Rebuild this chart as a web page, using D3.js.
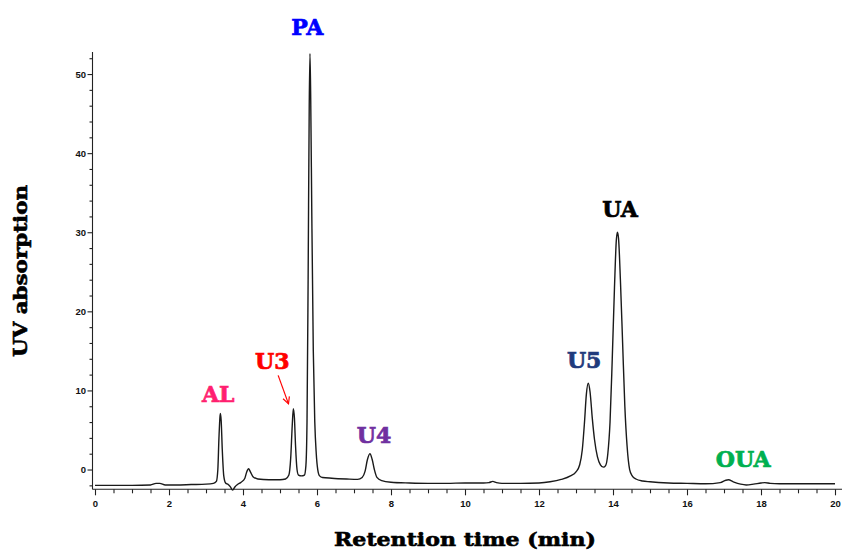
<!DOCTYPE html>
<html>
<head>
<meta charset="utf-8">
<script src="https://cdn.jsdelivr.net/npm/d3@7/dist/d3.min.js"></script>
<style>
  html, body { margin: 0; padding: 0; background: #fff; }
  svg { display: block; }
</style>
</head>
<body>
<svg id="chart" width="842" height="552"></svg>
<script>
// ---- Data ----
const timeMin = [
  0.0, 0.5, 1.0, 1.5, 1.65, 1.75, 1.9, 2.2, 2.6, 3.0, 3.2, 3.28, 3.32, 3.35, 3.38, 3.39, 3.41, 3.44, 3.48, 3.53,
  3.6, 3.66, 3.72, 3.78, 3.85, 3.95, 4.05, 4.1, 4.15, 4.2, 4.27, 4.4, 4.7, 5.0, 5.15, 5.24, 5.29, 5.33, 5.36, 5.39,
  5.42, 5.46, 5.5, 5.58, 5.66, 5.7, 5.73, 5.76, 5.79, 5.81, 5.83, 5.86, 5.9, 5.94, 5.98, 6.02, 6.07, 6.15, 6.4, 6.8,
  7.1, 7.22, 7.3, 7.36, 7.43, 7.49, 7.55, 7.62, 7.75, 8.0, 8.5, 9.0, 9.5, 10.0, 10.5, 10.65, 10.75, 10.85, 11.0, 11.5,
  12.0, 12.3, 12.6, 12.85, 13.0, 13.1, 13.17, 13.23, 13.28, 13.33, 13.38, 13.44, 13.5, 13.58, 13.66, 13.74, 13.8, 13.86, 13.92, 13.98,
  14.04, 14.09, 14.12, 14.15, 14.2, 14.26, 14.32, 14.38, 14.45, 14.52, 14.62, 14.8, 15.0, 15.5, 16.0, 16.5, 16.9, 17.05, 17.12, 17.25,
  17.45, 17.6, 17.8, 18.0, 18.1, 18.25, 18.5, 19.0, 19.5, 20.0
];
const absorbance = [
  -2.0, -2.0, -2.0, -1.95, -1.75, -1.75, -1.95, -1.95, -1.9, -1.85, -1.75, -1.5, 0.0, 4.0, 6.8, 7.1, 6.2, 2.5, -0.8, -1.7,
  -1.9, -2.2, -2.6, -2.2, -1.9, -1.6, -1.1, -0.3, 0.1, -0.3, -0.9, -1.2, -1.3, -1.3, -1.2, -0.7, 1.5, 5.5, 7.7, 6.5,
  3.0, 0.0, -0.7, -0.8, -0.7, 0.5, 6.0, 24, 46, 52.6, 47, 32, 15, 6, 2, 0.0, -0.8, -1.0, -1.1, -1.2,
  -1.25, -1.0, -0.2, 1.2, 2.0, 1.3, 0.0, -1.0, -1.4, -1.6, -1.7, -1.75, -1.75, -1.7, -1.7, -1.65, -1.5, -1.65, -1.75, -1.75,
  -1.7, -1.55, -1.25, -0.8, -0.3, 0.6, 2.5, 6.0, 9.5, 10.9, 9.8, 6.5, 3.8, 1.6, 0.6, 0.3, 0.5, 2.0, 6.0, 14,
  23, 29, 30, 29.2, 24, 16, 8, 3, 0.0, -0.8, -1.2, -1.45, -1.55, -1.7, -1.75, -1.8, -1.65, -1.35, -1.3, -1.55,
  -1.85, -1.95, -1.85, -1.7, -1.65, -1.75, -1.8, -1.8, -1.8, -1.8
];

// Peak labels (anchor in data units: retention time, absorbance)
const peakNames  = ["AL", "U3", "PA", "U4", "U5", "UA", "OUA"];
const peakLabelT = [3.33, 4.79, 5.74, 7.54, 13.22, 14.19, 17.52];
const peakLabelV = [8.55, 12.7, 54.9, 3.35, 12.8, 31.95, 0.35];
const peakColors = ["#ff1f70", "#ff0000", "#0000ff", "#7030a0", "#1f3a7c", "#000000", "#00b050"];

// U3 arrow (data units)
const arrowFrom = [4.95, 11.9];
const arrowTo   = [5.23, 8.3];

const xMajorTicks = [0, 2, 4, 6, 8, 10, 12, 14, 16, 18, 20];
const yMajorTicks = [0, 10, 20, 30, 40, 50];

const xTitle = "Retention time (min)";
const yTitle = "UV absorption";

// ---- Drawing ----
const svg = d3.select("#chart");
const x = d3.scaleLinear().domain([0, 20]).range([95, 835]);
const y = d3.scaleLinear().domain([-2.5, 52.8]).range([489.3, 51.9]);

const tickFont = "'Liberation Sans', Arial, sans-serif";
const titleFont = "'DejaVu Serif', serif";

// Y axis minor ticks
const yMinor = d3.range(-2, 53, 2).filter(v => v % 10 !== 0);
const gyMinor = svg.append("g").attr("transform", "translate(92.5,0)")
  .call(d3.axisLeft(y).tickValues(yMinor).tickSize(3).tickFormat(""));
gyMinor.select(".domain").remove();

const gy = svg.append("g").attr("transform", "translate(92.5,0)")
  .call(d3.axisLeft(y).tickValues(yMajorTicks).tickSize(5).tickSizeOuter(0).tickPadding(1.5));
gy.select(".domain").attr("d", `M0,${y(-2.5)}V${y(52.8)}`);

// X axis
const xMinor = d3.range(0.5, 20.01, 0.5).filter(v => v % 2 !== 0);
const gxMinor = svg.append("g").attr("transform", "translate(0,489.3)")
  .call(d3.axisBottom(x).tickValues(xMinor).tickSize(4).tickFormat(""));
gxMinor.select(".domain").remove();

const gx = svg.append("g").attr("transform", "translate(0,489.3)")
  .call(d3.axisBottom(x).tickValues(xMajorTicks).tickSize(6).tickSizeOuter(0).tickPadding(5));
gx.select(".domain").attr("d", `M${x(-0.07)},0H${x(20.3)}`);

svg.selectAll(".tick text")
  .attr("font-family", tickFont)
  .attr("font-size", 9.5)
  .attr("font-weight", "bold")
  .attr("fill", "#111");
svg.selectAll(".domain, .tick line").attr("stroke", "#222").attr("stroke-width", 1.1);

// Chromatogram line
const pts = timeMin.map((t, i) => [t, absorbance[i]]);
const line = d3.line().x(d => x(d[0])).y(d => y(d[1])).curve(d3.curveMonotoneX);
svg.append("path")
  .datum(pts)
  .attr("d", line)
  .attr("fill", "none")
  .attr("stroke", "#1a1a1a")
  .attr("stroke-width", 1.4)
  .attr("stroke-linejoin", "round");

// Peak labels
svg.append("g").selectAll("text")
  .data(peakNames)
  .join("text")
  .attr("x", (d, i) => x(peakLabelT[i]))
  .attr("y", (d, i) => y(peakLabelV[i]))
  .attr("text-anchor", "middle")
  .attr("font-family", titleFont)
  .attr("font-weight", "bold")
  .attr("font-size", 22)
  .attr("fill", (d, i) => peakColors[i])
  .attr("stroke", (d, i) => peakColors[i])
  .attr("stroke-width", 0.7)
  .text(d => d);

// U3 arrow
const defs = svg.append("defs");
defs.append("marker")
  .attr("id", "arrowU3")
  .attr("viewBox", "0 0 10 10")
  .attr("refX", 9).attr("refY", 5)
  .attr("markerWidth", 7).attr("markerHeight", 7)
  .attr("orient", "auto")
  .append("path")
  .attr("d", "M1,1 L9,5 L1,9")
  .attr("fill", "none")
  .attr("stroke", "#ff0000")
  .attr("stroke-width", 1.4);
svg.append("line")
  .attr("x1", x(arrowFrom[0])).attr("y1", y(arrowFrom[1]))
  .attr("x2", x(arrowTo[0])).attr("y2", y(arrowTo[1]))
  .attr("stroke", "#ff0000")
  .attr("stroke-width", 1.2)
  .attr("marker-end", "url(#arrowU3)");

// Axis titles
svg.append("text")
  .attr("x", 465).attr("y", 546)
  .attr("text-anchor", "middle")
  .attr("font-family", titleFont)
  .attr("font-weight", "bold")
  .attr("font-size", 19)
  .attr("textLength", 262)
  .attr("lengthAdjust", "spacingAndGlyphs")
  .attr("stroke", "#000").attr("stroke-width", 0.6)
  .text(xTitle);

svg.append("text")
  .attr("transform", "translate(27,271) rotate(-90)")
  .attr("text-anchor", "middle")
  .attr("font-family", titleFont)
  .attr("font-weight", "bold")
  .attr("font-size", 19)
  .attr("textLength", 172)
  .attr("lengthAdjust", "spacingAndGlyphs")
  .attr("stroke", "#000").attr("stroke-width", 0.6)
  .text(yTitle);
</script>
</body>
</html>
